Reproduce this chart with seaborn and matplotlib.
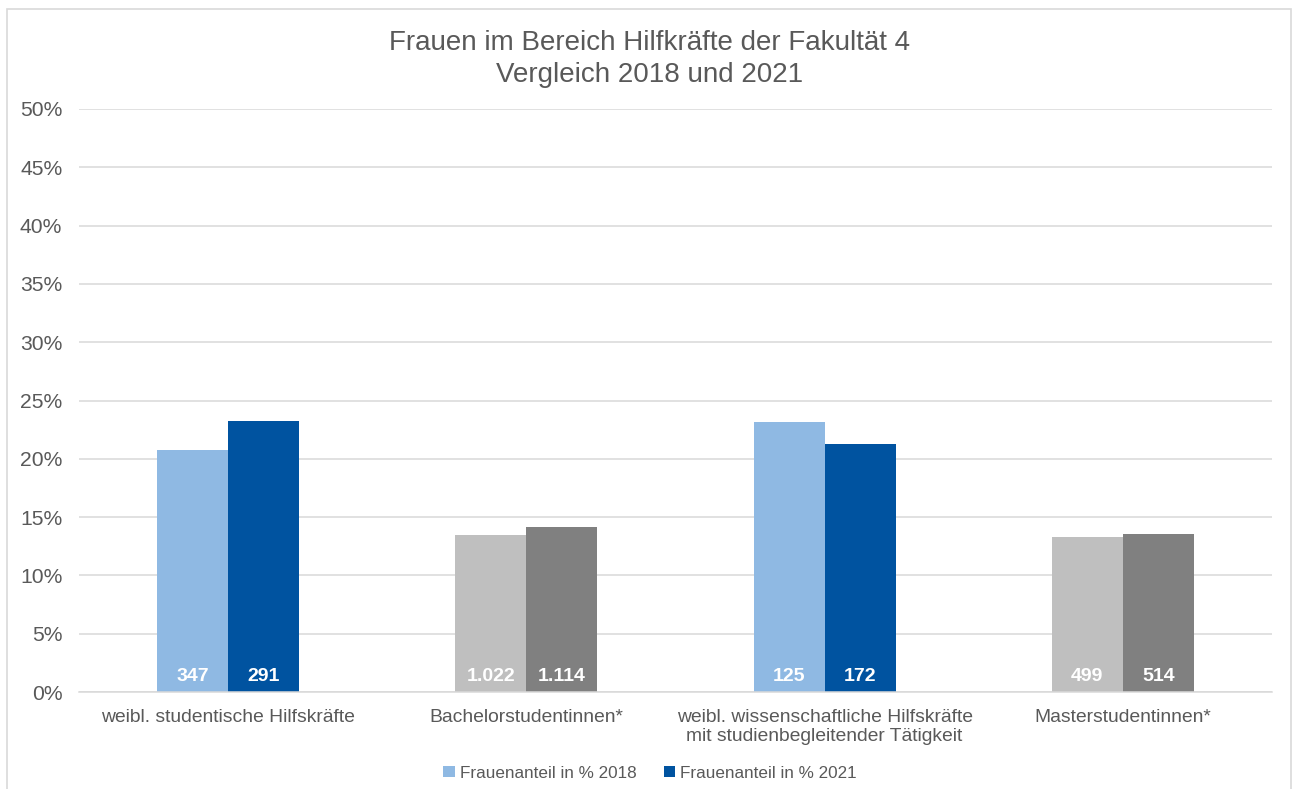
import matplotlib
matplotlib.use("Agg")
import matplotlib.pyplot as plt
from matplotlib.patches import Rectangle, Patch
from matplotlib.ticker import FuncFormatter
import seaborn as sns
import pandas as pd

categories = [
    "weibl. studentische Hilfskräfte",
    "Bachelorstudentinnen*",
    "weibl. wissenschaftliche Hilfskräfte\nmit studienbegleitender Tätigkeit",
    "Masterstudentinnen*",
]
series_names = ["Frauenanteil in % 2018", "Frauenanteil in % 2021"]
values_2018 = [20.75, 13.45, 23.15, 13.3]
values_2021 = [23.25, 14.15, 21.25, 13.55]
labels_2018 = ["347", "1.022", "125", "499"]
labels_2021 = ["291", "1.114", "172", "514"]
title = "Frauen im Bereich Hilfkräfte der Fakultät 4\nVergleich 2018 und 2021"
yticks = [0, 5, 10, 15, 20, 25, 30, 35, 40, 45, 50]

blue_colors = ["#8FB9E3", "#0053A0"]
gray_colors = ["#BFBFBF", "#808080"]
text_color = "#595959"
grid_color = "#D9D9D9"

df = pd.DataFrame({
    "Kategorie": categories * 2,
    "Wert": values_2018 + values_2021,
    "Serie": [series_names[0]] * 4 + [series_names[1]] * 4,
})

sns.set_theme(style="white")
plt.rcParams["font.family"] = ["Liberation Sans", "DejaVu Sans"]

fig = plt.figure(figsize=(12.93, 7.89), dpi=100)
ax = fig.add_axes([79 / 1293, 97 / 789, 1193 / 1293, 583 / 789])

sns.barplot(data=df, x="Kategorie", y="Wert", hue="Serie", order=categories,
            hue_order=series_names, palette=blue_colors, width=0.476,
            ax=ax, legend=False, saturation=1)

gray_idx = [1, 3]
for s, cont in enumerate(ax.containers):
    for i, bar in enumerate(cont):
        bar.set_edgecolor("none")
        if i in gray_idx:
            bar.set_facecolor(gray_colors[s])
        else:
            bar.set_facecolor(blue_colors[s])

for cont, labs in zip(ax.containers, [labels_2018, labels_2021]):
    for bar, lab in zip(cont, labs):
        ax.text(bar.get_x() + bar.get_width() / 2, 1.3, lab, ha="center",
                va="center", color="white", fontsize=14, fontweight="bold")

ax.set_ylim(0, 50)
ax.set_xlim(-0.5, 3.5)
ax.set_yticks(yticks)
ax.yaxis.set_major_formatter(FuncFormatter(lambda v, p: f"{int(v)}%"))
ax.grid(axis="y", color=grid_color, linewidth=1.1)
ax.set_axisbelow(True)
for sp in ["left", "right", "top"]:
    ax.spines[sp].set_visible(False)
ax.spines["bottom"].set_color(grid_color)
ax.spines["bottom"].set_linewidth(1.1)
ax.tick_params(axis="both", length=0, colors=text_color)
ax.tick_params(axis="y", pad=12, labelsize=15.2)
ax.tick_params(axis="x", pad=12, labelsize=13.9)
ax.set_xlabel("")
ax.set_ylabel("")

fig.text(650 / 1293, 1 - 59 / 789, title, ha="center", va="center",
         fontsize=20, color=text_color, linespacing=1.3)

handles = [Patch(facecolor=c, edgecolor="none") for c in blue_colors]
fig.legend(handles, series_names, loc="center", bbox_to_anchor=(650 / 1293, 1 - 773 / 789),
           ncol=2, frameon=False, fontsize=12.3, labelcolor=text_color,
           handlelength=0.65, handleheight=0.65, handletextpad=0.3, columnspacing=1.6)

fig.patches.append(Rectangle((7 / 1293, -0.02), (1291 - 7) / 1293, 1.02 - 9 / 789 + 0.0,
                             transform=fig.transFigure, fill=False,
                             edgecolor="#D9D9D9", linewidth=1.2))

fig.savefig("out.png", dpi=100, facecolor="white")
